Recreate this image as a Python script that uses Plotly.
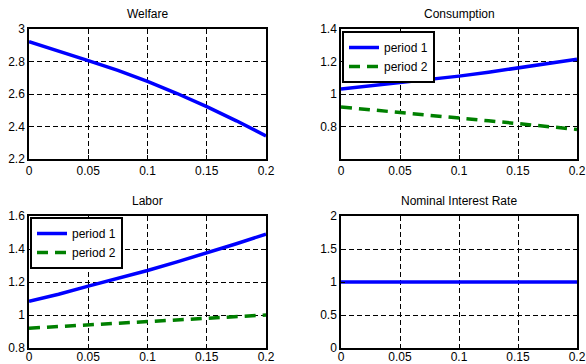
import plotly.graph_objects as go

x = [0, 0.025, 0.05, 0.075, 0.1, 0.125, 0.15, 0.175, 0.2]
welfare = [2.922, 2.866, 2.805, 2.745, 2.678, 2.603, 2.522, 2.435, 2.342]
cons_p1 = [1.030, 1.050, 1.067, 1.087, 1.110, 1.134, 1.160, 1.186, 1.214]
cons_p2 = [0.920, 0.904, 0.888, 0.870, 0.851, 0.835, 0.818, 0.800, 0.782]
labor_p1 = [1.083, 1.126, 1.175, 1.222, 1.270, 1.322, 1.376, 1.432, 1.490]
labor_p2 = [0.920, 0.930, 0.940, 0.950, 0.960, 0.970, 0.980, 0.990, 1.000]
rate = [1, 1, 1, 1, 1, 1, 1, 1, 1]

titles = ["Welfare", "Consumption", "Labor", "Nominal Interest Rate"]
xticks = [0, 0.05, 0.1, 0.15, 0.2]
xticklabels = ["0", "0.05", "0.1", "0.15", "0.2"]

BLUE = "#0000ff"
GREEN = "#008000"
FONT = "Liberation Sans, Arial, sans-serif"
LW = 3.5
DASH = "11px,7px"

fig = go.Figure()
fig.add_trace(go.Scatter(x=x, y=welfare, mode="lines", line=dict(color=BLUE, width=LW),
                         xaxis="x", yaxis="y", showlegend=False))
fig.add_trace(go.Scatter(x=x, y=cons_p1, mode="lines", line=dict(color=BLUE, width=LW),
                         xaxis="x2", yaxis="y2", name="period 1", legend="legend"))
fig.add_trace(go.Scatter(x=x, y=cons_p2, mode="lines", line=dict(color=GREEN, width=LW, dash=DASH),
                         xaxis="x2", yaxis="y2", name="period 2", legend="legend"))
fig.add_trace(go.Scatter(x=x, y=labor_p1, mode="lines", line=dict(color=BLUE, width=LW),
                         xaxis="x3", yaxis="y3", name="period 1", legend="legend2"))
fig.add_trace(go.Scatter(x=x, y=labor_p2, mode="lines", line=dict(color=GREEN, width=LW, dash=DASH),
                         xaxis="x3", yaxis="y3", name="period 2", legend="legend2"))
fig.add_trace(go.Scatter(x=x, y=rate, mode="lines", line=dict(color=BLUE, width=LW),
                         xaxis="x4", yaxis="y4", showlegend=False))

W, H = 586, 364
def px_x(p): return p / W
def px_y(p): return 1 - p / H

xdom_l = [px_x(29), px_x(266)]
xdom_r = [px_x(341), px_x(577)]
ydom_t = [px_y(159), px_y(29)]
ydom_b = [px_y(348), px_y(216)]

common = dict(showline=True, linecolor="black", linewidth=1.5, mirror=True,
              showgrid=True, gridcolor="black", griddash="5px,3px", gridwidth=1.2,
              zeroline=False, ticks="inside", ticklen=4, tickcolor="black",
              automargin=False,
              tickfont=dict(family=FONT, size=12, color="black"))

def xa(dom, anchor, standoff=0):
    return dict(domain=dom, anchor=anchor, range=[0, 0.2], tickvals=xticks,
                ticktext=xticklabels, ticklabelstandoff=standoff, **common)

def ya(dom, anchor, rng, tv):
    return dict(domain=dom, anchor=anchor, range=rng, tickvals=tv,
                ticktext=[("%g" % v) for v in tv], **common)

fig.update_layout(
    width=W, height=H, margin=dict(l=0, r=0, t=0, b=0, autoexpand=False),
    paper_bgcolor="white", plot_bgcolor="white",
    font=dict(family=FONT, size=12, color="black"),
    xaxis=xa(xdom_l, "y"), yaxis=ya(ydom_t, "x", [2.2, 3], [2.2, 2.4, 2.6, 2.8, 3]),
    xaxis2=xa(xdom_r, "y2"), yaxis2=ya(ydom_t, "x2", [0.6, 1.4], [0.8, 1, 1.2, 1.4]),
    xaxis3=xa(xdom_l, "y3", -3), yaxis3=ya(ydom_b, "x3", [0.8, 1.6], [0.8, 1, 1.2, 1.4, 1.6]),
    xaxis4=xa(xdom_r, "y4", -3), yaxis4=ya(ydom_b, "x4", [0, 2], [0, 0.5, 1, 1.5, 2]),
    legend=dict(x=px_x(342), y=px_y(31), xanchor="left", yanchor="top",
                bgcolor="white", bordercolor="black", borderwidth=2,
                font=dict(family=FONT, size=12, color="black"), tracegroupgap=0),
    legend2=dict(x=px_x(30), y=px_y(217), xanchor="left", yanchor="top",
                 bgcolor="white", bordercolor="black", borderwidth=2,
                 font=dict(family=FONT, size=12, color="black"), tracegroupgap=0),
)

title_pos = [((29 + 266) / 2, 14), ((341 + 577) / 2, 14), ((29 + 266) / 2, 201), ((341 + 577) / 2, 201)]
for t, (cx, cy) in zip(titles, title_pos):
    fig.add_annotation(text=t, x=px_x(cx), y=px_y(cy), xref="paper", yref="paper",
                       showarrow=False, xanchor="center", yanchor="middle",
                       font=dict(family=FONT, size=12, color="black"))

fig.write_html("out.html", config={"displayModeBar": False},
               post_script="document.body.style.margin='0';document.body.style.overflow='hidden';")
